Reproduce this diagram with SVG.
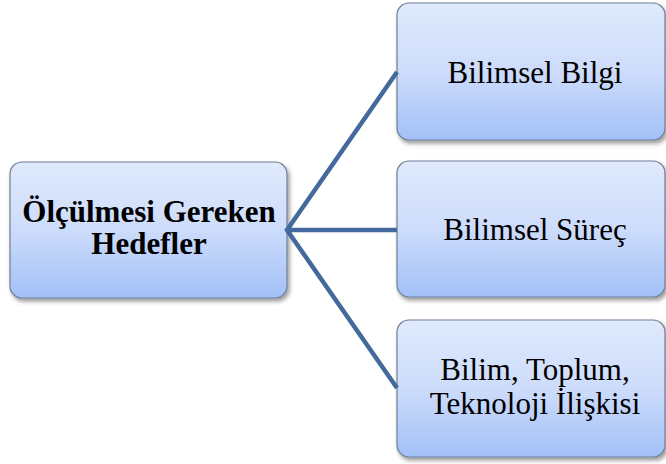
<svg xmlns="http://www.w3.org/2000/svg" width="666" height="464" viewBox="0 0 666 464">
  <defs>
    <linearGradient id="boxFill" x1="0" y1="0" x2="0" y2="1">
      <stop offset="0" stop-color="#e0eafd"/>
      <stop offset="0.5" stop-color="#cddcfb"/>
      <stop offset="1" stop-color="#a2c0f7"/>
    </linearGradient>
    <filter id="shadow" x="-10%" y="-10%" width="125%" height="130%">
      <feDropShadow dx="2" dy="3" stdDeviation="2" flood-color="#000" flood-opacity="0.4"/>
    </filter>
  </defs>
  <style>
    .box { fill: url(#boxFill); stroke: #6f7f96; stroke-width: 1.2; filter: url(#shadow); }
    .label { font-family: "Liberation Serif", "Times New Roman", serif; font-size: 31px; fill: #000; text-anchor: middle; }
    .bold { font-weight: bold; }
    .link { fill: none; stroke: #44699c; stroke-width: 4.5; stroke-linejoin: miter; }
  </style>

  <g id="node-hedefler">
    <rect class="box" x="10" y="162" width="277" height="136" rx="12"/>
    <text class="label bold" x="149" y="222">Ölçülmesi Gereken</text>
    <text class="label bold" x="149" y="254">Hedefler</text>
  </g>

  <g id="node-bilgi">
    <rect class="box" x="397" y="3" width="268" height="137" rx="12"/>
    <text class="label" x="535" y="83">Bilimsel Bilgi</text>
  </g>

  <g id="node-surec">
    <rect class="box" x="397" y="161" width="268" height="136" rx="12"/>
    <text class="label" x="535" y="240">Bilimsel Süreç</text>
  </g>

  <g id="node-iliski">
    <rect class="box" x="397" y="320" width="268" height="137" rx="12"/>
    <text class="label" x="535" y="380">Bilim, Toplum,</text>
    <text class="label" x="535" y="414">Teknoloji İlişkisi</text>
  </g>

  <g id="connectors">
    <path class="link" d="M397,72 L287,230 L397,388 M287,230 H397"/>
  </g>
</svg>
